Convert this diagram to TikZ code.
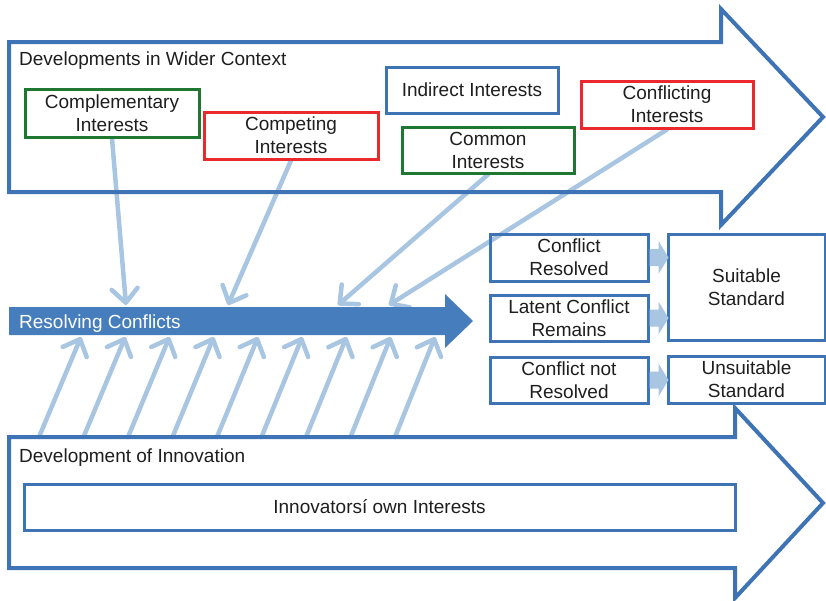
\documentclass[tikz,border=0pt]{standalone}
\usepackage{fontspec}
\setmainfont{Liberation Sans}
\usetikzlibrary{arrows.meta}
\definecolor{dblue}{RGB}{62,116,182}
\definecolor{rblue}{RGB}{70,125,188}
\definecolor{lblue}{RGB}{168,197,225}
\definecolor{dgreen}{RGB}{30,120,50}
\definecolor{dred}{RGB}{235,40,45}
\definecolor{txt}{RGB}{30,30,30}
\pgfdeclarelayer{bg}
\pgfsetlayers{bg,main}
\begin{document}
\begin{tikzpicture}[x=1pt,y=-1pt,
  font=\fontsize{19}{23}\selectfont,
  ibox/.style={draw, line width=3pt, align=center, inner sep=0pt, text=txt},
  feed/.style={draw=lblue, line width=4.5pt, line cap=round,
    -{Straight Barb[length=14pt,width=26pt,round]}},
  bigarrow/.style={draw=dblue, line width=4pt, line join=miter, miter limit=10},
  lbl/.style={anchor=base west, inner sep=0pt, text=txt}]
\useasboundingbox (0,0) rectangle (826,600);

% big outline arrows
\draw[bigarrow] (9,42) -- (721,42) -- (721,9) -- (823,117) -- (721,225) -- (721,192) -- (9,192) -- cycle;
\draw[bigarrow] (9,437) -- (735,437) -- (735,408) -- (823,503) -- (735,598) -- (735,568) -- (9,568) -- cycle;

% resolving conflicts arrow
\fill[rblue] (9,307) -- (445,307) -- (445,294) -- (473,321) -- (445,348) -- (445,335) -- (9,335) -- cycle;

% labels
\node[lbl] (lblwider) at (19,65) {Developments in Wider Context};
\node[lbl, text=white] (lblres) at (19,328) {Resolving Conflicts};
\node[lbl] (lblinn) at (19,462) {Development of Innovation};

% interest boxes
\node[ibox, draw=dgreen, minimum width=174pt, minimum height=48pt] (compl) at (112,113) {Complementary\\Interests};
\node[ibox, draw=dred, minimum width=174pt, minimum height=47pt] (compet) at (291,135.5) {Competing\\Interests};
\node[ibox, draw=dblue, minimum width=172pt, minimum height=46pt] (indir) at (472,90) {Indirect Interests};
\node[ibox, draw=dgreen, minimum width=172pt, minimum height=46pt] (common) at (488,150) {Common\\Interests};
\node[ibox, draw=dred, minimum width=172pt, minimum height=47pt] (confl) at (667,104.5) {Conflicting\\Interests};

% outcome boxes
\node[ibox, draw=dblue, minimum width=158pt, minimum height=47pt] (cr) at (569,257.5) {Conflict\\Resolved};
\node[ibox, draw=dblue, minimum width=158pt, minimum height=46pt] (lc) at (569,318) {Latent Conflict\\Remains};
\node[ibox, draw=dblue, minimum width=158pt, minimum height=46pt] (nr) at (569,380) {Conflict not\\Resolved};
\node[ibox, draw=dblue, minimum width=157pt, minimum height=106pt] (ss) at (746.5,287) {Suitable\\Standard};
\node[ibox, draw=dblue, minimum width=157pt, minimum height=47pt] (us) at (746.5,379.5) {Unsuitable\\Standard};

% innovators box
\node[ibox, draw=dblue, minimum width=711pt, minimum height=46pt] (innov) at (379.5,507) {Innovatorsí own Interests};

% small block arrows
\foreach \a in {cr,lc,nr}{
  \fill[lblue] (\a.east) ++(0,-8.5) -- ++(9,0) -- ++(0,-8) -- ++(10,16.5) -- ++(-10,16.5) -- ++(0,-8) -- ++(-9,0) -- cycle;
}

% feed arrows (behind)
\begin{pgfonlayer}{bg}
\coordinate (t1) at (126,305);
\coordinate (t2) at (228,305);
\coordinate (t3) at (338,305);
\coordinate (t4) at (389,305);
\draw[feed] (compl.south) -- (t1);
\draw[feed] (compet.south) -- (t2);
\draw[feed] (common.south) -- (t3);
\draw[feed] (confl.south) -- (t4);
\foreach \i in {0,...,8}{
  \coordinate (b\i) at ({39+44.5*\i},437);
  \coordinate (u\i) at ({81+44.25*\i},337);
  \draw[feed] (b\i) -- (u\i);
}
\end{pgfonlayer}
\end{tikzpicture}
\end{document}
